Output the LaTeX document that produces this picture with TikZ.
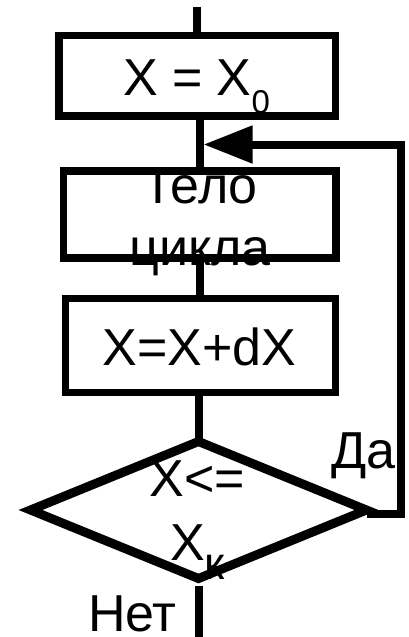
\documentclass[tikz,border=0pt]{standalone}
\usepackage{fontspec}
\setmainfont{Liberation Sans}
\usetikzlibrary{shapes.geometric,arrows.meta}
\begin{document}
\begin{tikzpicture}[x=1pt,y=-1pt,
  box/.style={draw,line width=7.5pt,rectangle,inner sep=0pt,outer sep=0pt},
  dec/.style={draw,line width=9pt,diamond,inner sep=0pt,outer sep=0pt},
  lbl/.style={inner sep=0pt,outer sep=0pt,font=\fontsize{52}{62}\selectfont},
  conn/.style={line width=8pt,line join=miter}]
\useasboundingbox (0,0) rectangle (408,637);
% shapes
\node[box,minimum width=276.5pt,minimum height=80.5pt] (box1) at (197.25,75.75) {};
\node[box,minimum width=272.3pt,minimum height=87pt] (box2) at (199.85,214.5) {};
\node[box,minimum width=270pt,minimum height=94pt] (box3) at (200.5,345.5) {};
\node[dec,minimum width=336pt,minimum height=137pt] (dia) at (198.5,510) {};
% coordinates
\coordinate (start) at (197,7);
\coordinate (jn) at (199.5,144.5);
\coordinate (tip) at (203.5,144.5);
\coordinate (loopc) at (401,144.5);
\coordinate (finish) at (199,637);
% connectors
\draw[conn] (start) -- (start |- box1.north);
\draw[conn] (box1.south -| jn) -- (box2.north -| jn);
\draw[conn] (box2.south) -- (box2.south |- box3.north);
\draw[conn] (box3.south -| dia.north) -- (dia.north);
\draw[conn] ([yshift=-7pt]finish |- dia.south) -- (finish);
\draw[conn,-{Triangle[length=49pt,width=36pt]}] ([yshift=-4pt]dia.east) -| (loopc) -- (tip);
% texts
\node[lbl,anchor=base west] (t1) at (123,95) {X = X\raisebox{-18pt}{\fontsize{33}{33}\selectfont 0}};
\node[lbl,anchor=base] (t2a) at (200,203) {Тело};
\node[lbl,anchor=base] (t2b) at (200,265) {цикла};
\node[lbl,anchor=base] (t3) at (199.5,365) {X=X+dX};
\node[lbl,anchor=base] (t4a) at (197.5,496) {X<=};
\node[lbl,anchor=base west] (t4b) at (170,560) {X\raisebox{-19pt}{\fontsize{46}{46}\selectfont к}};
\node[lbl,anchor=base west] (yes) at (331,468) {Да};
\node[lbl,anchor=base west] (no) at (88,631) {Нет};
\end{tikzpicture}
\end{document}
